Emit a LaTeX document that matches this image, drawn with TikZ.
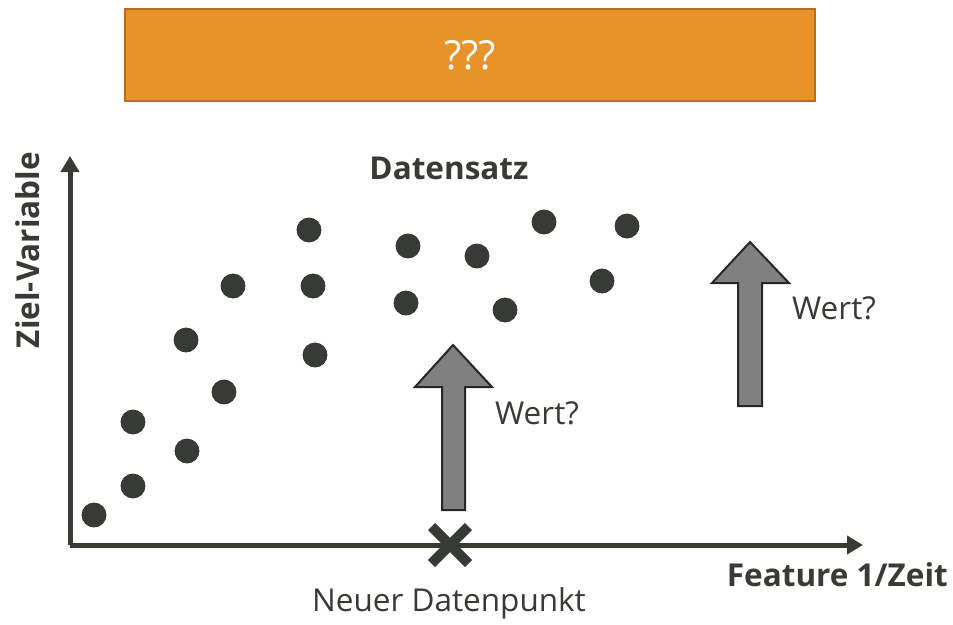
\documentclass[tikz,border=0pt]{standalone}
\usepackage{fontspec}
\setmainfont{Open Sans}
\definecolor{ink}{HTML}{383A35}
\definecolor{boxfill}{HTML}{E8922A}
\definecolor{boxline}{HTML}{B86E1E}
\definecolor{arrowfill}{HTML}{808080}
\tikzset{
  dot/.style={circle, fill=ink, draw=black!80, line width=0.8pt, minimum size=24pt, inner sep=0pt},
  axis/.style={draw=ink, line width=5pt, -{Triangle[length=16pt,width=18pt]}},
  bigarrow/.style={fill=arrowfill, draw=black!85, line width=2pt, line join=miter},
  lbl/.style={text=ink, inner sep=0pt},
  regtext/.style={font=\fontsize{31.5}{36}\selectfont},
  boldtext/.style={font=\bfseries\fontsize{31.5}{36}\selectfont},
}
\usetikzlibrary{arrows.meta}
\begin{document}
\begin{tikzpicture}[x=1pt,y=-1pt]
\useasboundingbox (0,0) rectangle (953,624);
% header bar
\node[draw=boxline, fill=boxfill, line width=2pt, minimum width=690pt, minimum height=92pt, inner sep=0pt,
      text=white, font=\fontsize{40}{44}\selectfont] (head) at (470,55) {???};
% axes
\coordinate (origin) at (70,545);
\coordinate (ytip) at (70,156);
\coordinate (xtip) at (863,545);
\draw[axis] (origin) -- (ytip);
\draw[axis] (origin) -- (xtip);
\node[lbl, rotate=90, boldtext] (ylab) at (28,250) {Ziel-Variable};
\node[lbl, boldtext, anchor=east] (xlab) at (948,575) {Feature 1/Zeit};
\node[lbl, boldtext] (title) at (449,168) {Datensatz};
% data points
\foreach \px/\py [count=\i] in {94/515, 133/486, 133/422, 187/451, 224/392, 186/340, 233/286,
  309/230, 313/286, 315/355, 408/246, 406/303, 477/256, 505/310, 544/222, 602/281, 627/226}
  \node[dot] (p\i) at (\px,\py) {};
% new data point
\coordinate (newpt) at (450,545);
\draw[ink, line width=10pt] ([shift={(-18.5,-18.5)}]newpt) -- ([shift={(18.5,18.5)}]newpt)
  ([shift={(-18.5,18.5)}]newpt) -- ([shift={(18.5,-18.5)}]newpt);
\node[lbl, regtext] (newlab) at (449,603) {Neuer Datenpunkt};
% query arrows
\draw[bigarrow] (442,510) -- (442,387) -- (415,387) -- (453,345) -- (492,387) -- (465,387) -- (465,510) -- cycle;
\node[lbl, regtext, anchor=west] (q1) at (495,413) {Wert?};
\draw[bigarrow] (738,406) -- (738,283) -- (712,283) -- (750,242) -- (789,283) -- (762,283) -- (762,406) -- cycle;
\node[lbl, regtext, anchor=west] (q2) at (792,308) {Wert?};
\end{tikzpicture}
\end{document}
